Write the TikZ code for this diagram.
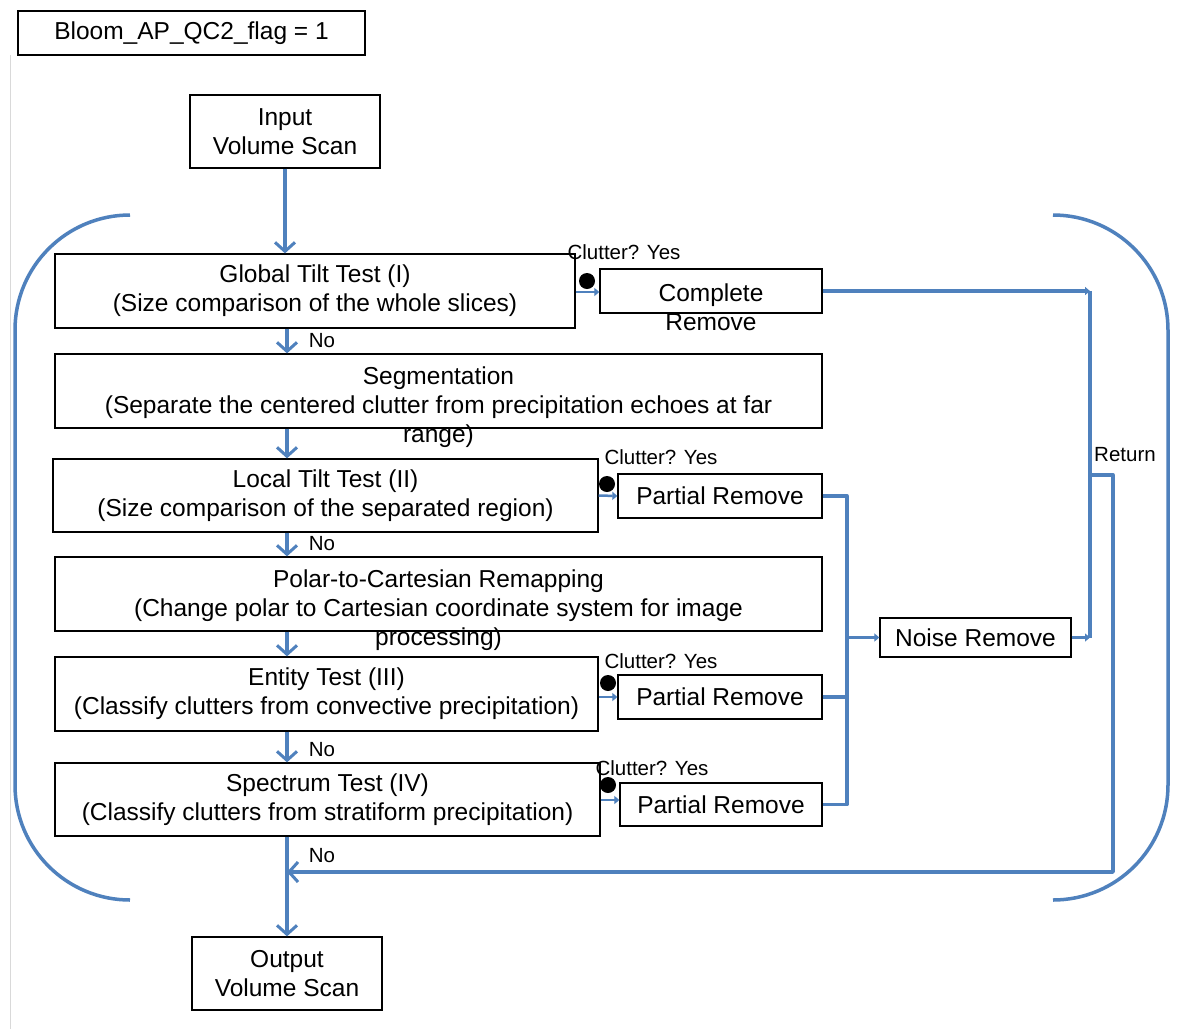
\documentclass[tikz,border=0pt]{standalone}
\usepackage{fontspec}
\setmainfont{Liberation Sans}
\usetikzlibrary{arrows.meta}
\definecolor{flowblue}{RGB}{79,129,189}

\begin{document}
\begin{tikzpicture}[x=1pt,y=-1pt,
    box/.style={draw=black, line width=1.3pt, inner sep=0pt, align=center,
      font=\fontsize{24.5}{29}\selectfont},
    txt/.style={inner sep=0pt, align=center, font=\fontsize{24.5}{29}\selectfont},
    small/.style={inner sep=0pt, font=\fontsize{20.5}{22}\selectfont},
    flow/.style={draw=flowblue, line width=3.3pt, line join=round},
    arr/.style={flow, -{Straight Barb[length=9pt,width=20pt,line width=3pt]}},
    harr/.style={flow, line width=2.5pt, -{Triangle[length=5pt,width=8pt]}},
    bracket/.style={draw=flowblue, line width=3.5pt, rounded corners=115pt}]
  \useasboundingbox[fill=white] (0,0) rectangle (1192,1029);
  \draw[gray!30, line width=1pt] (10,55) -- (10,1029);

  % top boxes
  \node[box, minimum width=347, minimum height=44] (flag) at (191.5,33) {Bloom\_AP\_QC2\_flag = 1};
  \node[box, minimum width=190, minimum height=73] (input) at (285,131.5) {Input\\Volume Scan};

  % main column of tests
  \node[box, minimum width=520, minimum height=74] (global) at (315,291) {Global Tilt Test (I)\\(Size comparison of the whole slices)};
  \node[box, minimum width=767, minimum height=74] (seg) at (438.5,391) {};
  \node[txt] at (438.5,407) {Segmentation\\(Separate the centered clutter from precipitation echoes at far\\range)};
  \node[box, minimum width=545, minimum height=73] (local) at (325.5,495.5) {Local Tilt Test (II)\\(Size comparison of the separated region)};
  \node[box, minimum width=767, minimum height=74] (polar) at (438.5,594) {};
  \node[txt] at (438.5,610) {Polar-to-Cartesian Remapping\\(Change polar to Cartesian coordinate system for image\\processing)};
  \node[box, minimum width=543, minimum height=74] (entity) at (326.5,694) {Entity Test (III)\\(Classify clutters from convective precipitation)};
  \node[box, minimum width=545, minimum height=73] (spectrum) at (327.5,799.5) {Spectrum Test (IV)\\(Classify clutters from stratiform precipitation)};
  \node[box, minimum width=190, minimum height=73] (output) at (287,973.5) {Output\\Volume Scan};

  % remove boxes
  \node[box, minimum width=222, minimum height=44] (crem) at (711,291) {};
  \node[txt] at (711,307) {Complete\\Remove};
  \node[box, minimum width=204, minimum height=44] (prem1) at (720,496) {Partial Remove};
  \node[box, minimum width=204, minimum height=44] (prem2) at (720,697) {Partial Remove};
  \node[box, minimum width=202, minimum height=43] (prem3) at (721,804.5) {Partial Remove};
  \node[box, minimum width=191, minimum height=39] (noise) at (975.5,637.5) {Noise Remove};

  % clutter labels and dots
  \node[small] (c1) at (624,252) {Clutter? Yes};
  \node[small] (c2) at (661,457) {Clutter? Yes};
  \node[small] (c3) at (661,661) {Clutter? Yes};
  \node[small] (c4) at (652,768) {Clutter? Yes};
  \fill (587,281) circle (8);
  \fill (607,484) circle (8);
  \fill (608,683) circle (8);
  \fill (608,785) circle (8);

  % No labels
  \node[small] at (322,341) {No};
  \node[small] at (322,544) {No};
  \node[small] at (322,750) {No};
  \node[small] at (322,856) {No};
  \node[small] at (1125,455) {Return};

  % main flow
  \draw[arr] (input.south -| 285,0) -- (global.north -| 285,0);
  \draw[arr] (global.south -| 287,0) -- (seg.north -| 287,0);
  \draw[arr] (seg.south -| 287,0) -- (local.north -| 287,0);
  \draw[arr] (local.south -| 287,0) -- (polar.north -| 287,0);
  \draw[arr] (polar.south -| 287,0) -- (entity.north -| 287,0);
  \draw[arr] (entity.south -| 287,0) -- (spectrum.north -| 287,0);
  \draw[arr] (spectrum.south -| 287,0) -- (output.north -| 287,0);

  % yes branches
  \draw[harr] (global.east |- 0,292) -- (crem.west |- 0,292);
  \draw[harr] (local.east) -- (prem1.west);
  \draw[harr] (entity.east |- prem2) -- (prem2.west);
  \draw[harr] (spectrum.east |- 0,800) -- (prem3.west |- 0,800);

  % to noise removal
  \draw[flow] (prem1.east) -- (847,496) -- (847,804.5) -- (prem3.east);
  \draw[flow] (prem2.east) -- (847,697);
  \draw[harr] (847,637.5) -- (noise.west);
  \draw[flow, -{Triangle[length=5pt,width=8pt]}] (crem.east) -- (1090,291);
  \draw[flow] (1090,291) -- (1090,637.5);
  \draw[harr] (noise.east) -- (1090,637.5);

  % return
  \draw[flow, -{Straight Barb[length=9pt,width=20pt,line width=3pt]}] (1090,475) -- (1113,475) -- (1113,872) -- (287,872);

  % brackets
  \draw[bracket] (130,215) -- (15,215) -- (15,900) -- (130,900);
  \draw[bracket] (1053,215) -- (1168,215) -- (1168,900) -- (1053,900);
\end{tikzpicture}
\end{document}
